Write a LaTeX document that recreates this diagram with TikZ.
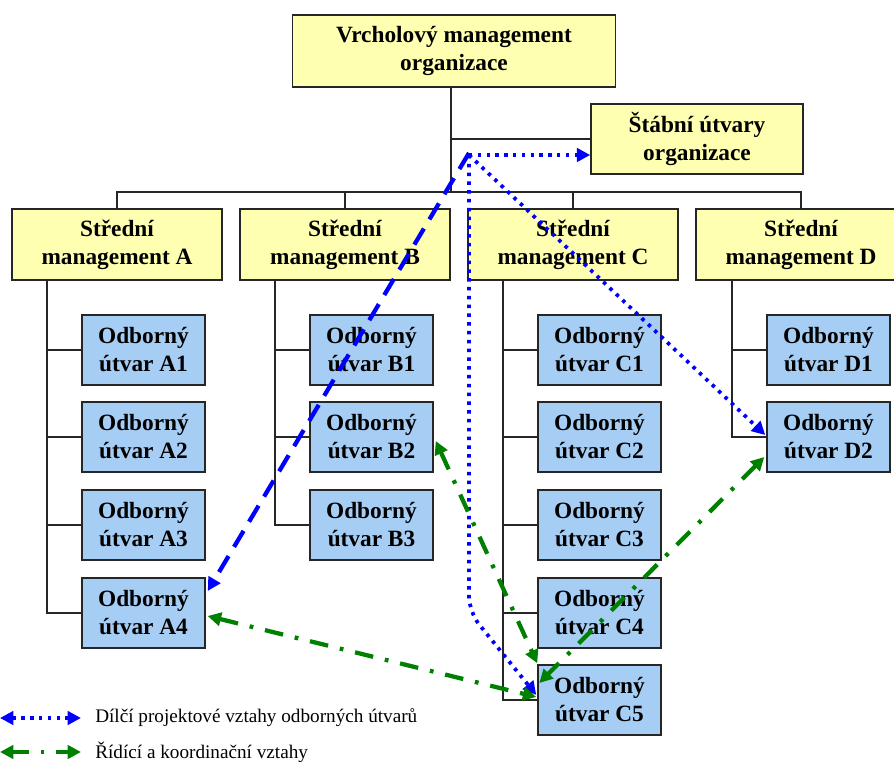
\documentclass[tikz,border=0pt]{standalone}
\usepackage{fontspec}
\setmainfont{Liberation Serif}
\usetikzlibrary{arrows.meta,calc}
\definecolor{boxyellow}{RGB}{255,255,178}
\definecolor{boxblue}{RGB}{166,206,245}
\definecolor{relblue}{RGB}{0,0,255}
\definecolor{relgreen}{RGB}{0,128,0}
\begin{document}
\begin{tikzpicture}[x=0.75pt,y=-0.75pt,
 boxfont/.style={font=\fontsize{17.5}{21}\selectfont\bfseries},
 mgr/.style={draw=black!85,line width=1.1pt,fill=boxyellow,align=center,boxfont,inner sep=0pt},
 midbox/.style={mgr,minimum width=157.5pt,minimum height=53.25pt},
 unit/.style={draw=black!85,line width=1.1pt,fill=boxblue,align=center,boxfont,minimum width=92.25pt,minimum height=52.5pt,inner sep=0pt},
 tree/.style={draw=black!85,line width=1.1pt},
 tipb/.style={-{Triangle[length=10pt,width=10pt]}},
 tipbb/.style={{Triangle[length=10pt,width=10pt]}-{Triangle[length=10pt,width=10pt]}},
 projrel/.style={draw=relblue,line width=2.8pt,dash pattern=on 2.6pt off 4pt},
 leadrel/.style={draw=relblue,line width=3.2pt,dash pattern=on 14pt off 8pt},
 coordrel/.style={draw=relgreen,line width=3.2pt,dash pattern=on 14pt off 9pt on 2.8pt off 9pt},
 legendtext/.style={anchor=west,inner sep=0pt,font=\fontsize{14.4}{16}\selectfont}
]
\useasboundingbox (0,0) rectangle (894,762);
\clip (0,0) rectangle (894,762);

% top level
\node[mgr,minimum width=242.25pt,minimum height=54pt] (top) at (454,51) {Vrcholový management\\organizace};
\node[mgr,minimum width=159pt,minimum height=52.5pt] (stab) at (697,139) {Štábní útvary\\organizace};

% middle management
\node[midbox] (ma) at (117,244.5) {Střední\\management A};
\node[midbox] (mb) at (345,244.5) {Střední\\management B};
\node[midbox] (mc) at (573,244.5) {Střední\\management C};
\node[midbox] (md) at (801,244.5) {Střední\\management D};

% units
\node[unit] (a1) at (143.5,350) {Odborný\\útvar A1};
\node[unit] (a2) at (143.5,437) {Odborný\\útvar A2};
\node[unit] (a3) at (143.5,525) {Odborný\\útvar A3};
\node[unit] (a4) at (143.5,613) {Odborný\\útvar A4};
\node[unit] (b1) at (371.5,350) {Odborný\\útvar B1};
\node[unit] (b2) at (371.5,437) {Odborný\\útvar B2};
\node[unit] (b3) at (371.5,525) {Odborný\\útvar B3};
\node[unit] (c1) at (599.5,350) {Odborný\\útvar C1};
\node[unit] (c2) at (599.5,437) {Odborný\\útvar C2};
\node[unit] (c3) at (599.5,525) {Odborný\\útvar C3};
\node[unit] (c4) at (599.5,613) {Odborný\\útvar C4};
\node[unit] (c5) at (599.5,700) {Odborný\\útvar C5};
\node[unit] (d1) at (828.5,350) {Odborný\\útvar D1};
\node[unit] (d2) at (828.5,437) {Odborný\\útvar D2};

% tree lines
\coordinate (topfoot) at (451,87);
\coordinate (bus) at (451,192);
\draw[tree] (topfoot) -- (bus);
\draw[tree] (topfoot |- stab.west) -- (stab.west);
\draw[tree] (ma.north) -- (ma.north |- bus) -- (md.north |- bus) -- (md.north);
\draw[tree] (mb.north |- bus) -- (mb.north);
\draw[tree] (mc.north |- bus) -- (mc.north);

\draw[tree] (47,280) -- (47,613) -- (a4.west);
\draw[tree] (47,350) -- (a1.west);
\draw[tree] (47,437) -- (a2.west);
\draw[tree] (47,525) -- (a3.west);

\draw[tree] (275,280) -- (275,525) -- (b3.west);
\draw[tree] (275,350) -- (b1.west);
\draw[tree] (275,437) -- (b2.west);

\draw[tree] (503,280) -- (503,700) -- (c5.west);
\draw[tree] (503,350) -- (c1.west);
\draw[tree] (503,437) -- (c2.west);
\draw[tree] (503,525) -- (c3.west);
\draw[tree] (503,613) -- (c4.west);

\draw[tree] (732,280) -- (732,437) -- (d2.west);
\draw[tree] (732,350) -- (d1.west);

% relations
\coordinate (hub) at (469,155);
\coordinate (hubb) at (469,153);
\coordinate (bend) at (469,612);

\draw[projrel,tipb] (hub) -- ($(stab.west)+(0,16)$);
\draw[projrel,tipb] (hub) -- ($(d2.west)+(-1,-2)$);
\draw[projrel,tipb,rounded corners=12pt] (hub) -- (bend) -- ($(c5.west)+(-1,-5)$);
\draw[leadrel,tipb] (hubb) -- ($(a4.east)+(2,-22)$);

\draw[coordrel,tipbb] ($(a4.east)+(2,3)$) -- ($(c5.west)+(-1,-3)$);
\draw[coordrel,tipbb] ($(b2.east)+(2,4)$) -- ($(c5.north west)+(0,-1)$);
\draw[coordrel,tipbb] ($(d2.west)+(-2,20)$) -- ($(c5.west)+(2,-17)$);

% legend
\coordinate (l1a) at (0,718);
\coordinate (l1b) at (81,718);
\coordinate (l2a) at (0,752);
\coordinate (l2b) at (81,752);
\draw[projrel,tipbb] (l1a) -- (l1b);
\draw[coordrel,dash pattern=on 12pt off 9pt on 2.8pt off 9pt,tipbb] (l2a) -- (l2b);
\node[legendtext] (leg1) at (95,718) {Dílčí projektové vztahy odborných útvarů};
\node[legendtext] (leg2) at (95,752) {Řídící a koordinační vztahy};
\end{tikzpicture}
\end{document}
